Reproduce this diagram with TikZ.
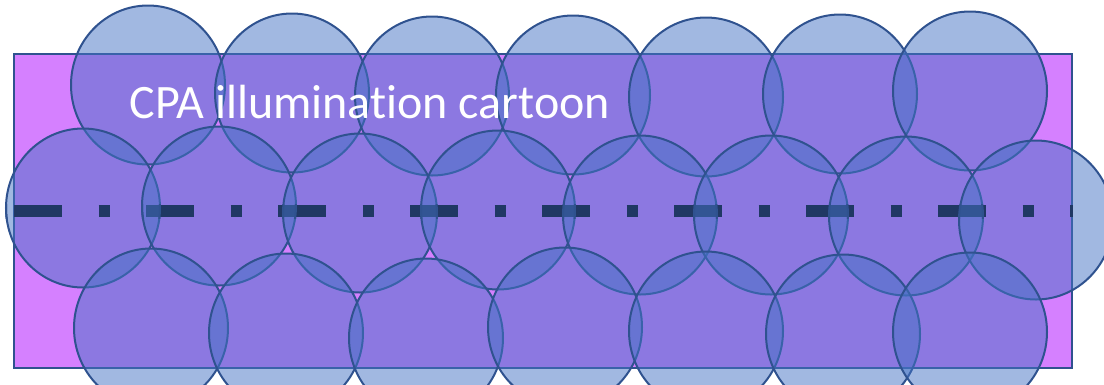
\documentclass[tikz,border=0pt]{standalone}
\usepackage{fontspec}
\setmainfont{Carlito}[Ligatures={NoCommon}]
\definecolor{panelfill}{HTML}{D580FF}
\definecolor{spotfill}{HTML}{4472C4}
\definecolor{rim}{HTML}{2F528F}
\definecolor{axisline}{HTML}{203864}
\colorlet{axisshade}{axisline!50!spotfill}
\begin{document}
\begin{tikzpicture}[x=1pt,y=-1pt,
  panelbox/.style={fill=panelfill, draw=rim, line width=2pt},
  spot/.style={fill=spotfill, fill opacity=0.5, draw=rim, line width=2pt},
  spotrim/.style={draw=rim, line width=2pt},
  axisdash/.style={draw=axisline, line width=12pt, line cap=butt,
    dash pattern=on 48pt off 36.5pt on 11pt off 36.5pt},
  caption/.style={anchor=base west, inner sep=0pt, text=white,
    font=\fontsize{48}{58}\selectfont}]
\useasboundingbox (0,0) rectangle (1104,384);
\clip (0,0) rectangle (1104,384);

% background panel
\draw[panelbox] (14,54) rectangle (1072,368);

% middle-row spot centres
\foreach \cx/\cy [count=\i] in {83/208, 219/206, 360/213, 498/210, 640/215, 771/215, 906/216, 1036/220}
  \coordinate (m\i) at (\cx,\cy);

% illumination spots: upper, middle and lower rows
\foreach \cx/\cy in {148/85, 292/93, 432/96, 573/95, 706/97, 840/94, 970/91}
  \draw[spot] (\cx,\cy) ellipse [x radius=77, y radius=79.5];
\foreach \i in {1,...,8}
  \draw[spot] (m\i) ellipse [x radius=77, y radius=79.5];
\foreach \cx/\cy in {151/328, 286/333, 426/338, 565/327, 706/331, 843/334, 970/332}
  \draw[spot] (\cx,\cy) ellipse [x radius=77, y radius=79.5];

% optical axis
\coordinate (axisL) at (14,211);
\coordinate (axisR) at (1073,211);
\draw[axisdash] (axisL) -- (axisR);

% axis seen through the overlap of neighbouring spots
\foreach \i [evaluate=\i as \j using int(\i+1)] in {1,...,7} {
  \begin{scope}
    \clip (m\i) ellipse [x radius=77, y radius=79.5];
    \clip (m\j) ellipse [x radius=77, y radius=79.5];
    \draw[axisdash, draw=axisshade] (axisL) -- (axisR);
  \end{scope}
}
\begin{scope}
  \clip (0,204) rectangle (1104,218);
  \foreach \i in {1,...,8}
    \draw[spotrim] (m\i) ellipse [x radius=77, y radius=79.5];
\end{scope}

% title
\node[caption] (title) at (129.5,118) {CPA illumination cartoon};
\end{tikzpicture}
\end{document}
